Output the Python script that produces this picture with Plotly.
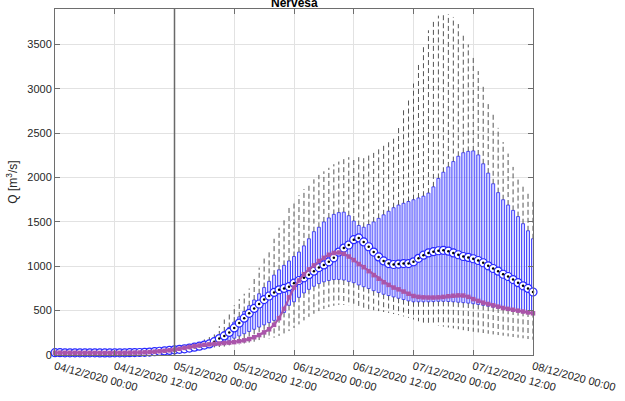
import pandas as pd
import plotly.graph_objects as go

# Hourly time axis, 04/12/2020 00:00 -> 08/12/2020 00:00
times = pd.date_range("2020-12-04 00:00", periods=97, freq="h")
forecast_start = 24  # index of 05/12/2020 00:00

# Observed discharge [m3/s]
observed = [26, 26, 25, 25, 25, 24, 24, 24, 24, 23, 23, 23, 24, 24, 25, 26, 27, 28, 30,
            33, 37, 42, 47, 53,
            60, 70, 80, 90, 100, 108, 115, 120, 125, 130, 135, 140, 145, 155, 165, 180,
            200, 225, 255, 290, 340, 415, 520, 650, 760, 840, 910, 965, 1010, 1060, 1095,
            1130, 1150, 1155, 1140, 1110, 1070, 1025, 990, 945, 900, 860, 820, 790, 760,
            740, 715, 690, 665, 655, 650, 648, 648, 650, 655, 662, 668, 672, 670, 655,
            630, 610, 590, 575, 560, 545, 530, 520, 510, 500, 490, 480, 470]

# Ensemble median
median = [26, 26, 25, 25, 25, 24, 24, 24, 24, 23, 23, 23, 24, 24, 25, 26, 27, 28, 30,
          33, 37, 42, 47, 52,
          58, 64, 70, 78, 88, 100, 112, 125, 150, 185, 215, 255, 305, 360, 415, 470,
          525, 575, 625, 665, 705, 735, 750, 770, 810, 840, 870, 905, 945, 985, 1015,
          1050, 1095, 1160, 1205, 1240, 1300, 1320, 1275, 1220, 1160, 1105, 1060, 1030,
          1020, 1025, 1030, 1030, 1050, 1090, 1125, 1150, 1165, 1175, 1180, 1170, 1150,
          1130, 1110, 1100, 1085, 1065, 1040, 1005, 975, 945, 910, 885, 850, 815, 780,
          750, 710]

# Ensemble spread from 05/12/2020 00:00 onwards
q3 = [60, 66, 74, 84, 98, 112, 130, 145, 175, 215, 260, 310, 370, 430, 490, 555,
      620, 690, 760, 830, 900, 960, 1010, 1060, 1110, 1160, 1230, 1310, 1390, 1440,
      1500, 1545, 1585, 1605, 1610, 1570, 1510, 1460, 1440, 1470, 1500, 1540, 1580,
      1620, 1660, 1690, 1710, 1730, 1750, 1770, 1790, 1825, 1895, 1990, 2060, 2120,
      2180, 2240, 2280, 2295, 2300, 2255, 2155, 2050, 1930, 1830, 1750, 1690, 1630,
      1560, 1480, 1400, 1310]
q1 = [55, 60, 65, 72, 80, 88, 95, 105, 115, 128, 145, 165, 190, 215, 240, 265,
      290, 315, 340, 365, 390, 420, 480, 560, 600, 650, 700, 740, 775, 805,
      825, 840, 850, 852, 845, 830, 815, 790, 770, 750, 725, 705, 685,
      670, 655, 640, 625, 610, 600, 600, 600, 600, 602, 605, 605, 603,
      600, 595, 590, 585, 578, 570, 560, 550, 540, 530, 522, 515, 508,
      500, 492, 485, 478]
upper = [60, 70, 85, 100, 120, 145, 175, 215, 265, 325, 400, 480, 560, 630, 690, 750,
         860, 985, 1090, 1190, 1310, 1435, 1550, 1660, 1740, 1800, 1870, 1915, 1980,
         2030, 2070, 2110, 2150, 2180, 2215, 2230, 2230, 2230, 2235, 2250, 2290, 2340,
         2380, 2410, 2450, 2590, 2760, 2900, 3060, 3280, 3480, 3660, 3760, 3825, 3845,
         3840, 3810, 3730, 3630, 3500, 3350, 3200, 3030, 2860, 2715, 2560, 2400, 2270,
         2120, 2010, 1915, 1840, 1750]
lower = [45, 50, 55, 60, 65, 70, 75, 80, 85, 90, 95, 100, 110, 120, 130, 140,
         150, 160, 170, 180, 195, 215, 240, 270, 305, 345, 390, 430, 465, 495,
         520, 540, 555, 565, 565, 558, 548, 535, 525, 515, 505, 495, 485,
         475, 462, 450, 435, 420, 400, 380, 365, 350, 340, 330, 320, 310,
         300, 290, 280, 270, 262, 255, 248, 240, 232, 225, 218, 210, 203,
         195, 188, 180, 172]

# Tick values
y_ticks = [0, 500, 1000, 1500, 2000, 2500, 3000, 3500]

ftimes = times[forecast_start:]

# Whisker segments (box edge -> whisker end)
wx, wy = [], []
for t, a, b, c, d in zip(ftimes, q3, upper, q1, lower):
    wx += [t, t, None, t, t, None]
    wy += [a, b, None, c, d, None]

fig = go.Figure()

fig.add_trace(go.Scatter(
    x=wx, y=wy, mode="lines",
    line=dict(color="rgb(85,85,85)", width=1, dash="5px,3px"),
    hoverinfo="skip"))

# Interquartile boxes
fig.add_trace(go.Bar(
    x=ftimes, base=q1, y=[a - b for a, b in zip(q3, q1)],
    width=0.6 * 3600 * 1000,
    marker=dict(color="rgba(175,175,255,0.55)",
                line=dict(color="rgb(75,75,255)", width=1))))

# Median markers: open circle with a dot
fig.add_trace(go.Scatter(
    x=times, y=median, mode="markers", cliponaxis=False,
    marker=dict(symbol="circle", size=8, color="white",
                line=dict(color="rgb(40,40,255)", width=1.2))))
fig.add_trace(go.Scatter(
    x=times, y=median, mode="markers", cliponaxis=False,
    marker=dict(symbol="circle", size=2.5, color="black")))

# Observed series
fig.add_trace(go.Scatter(
    x=times, y=observed, mode="lines+markers", cliponaxis=False,
    line=dict(color="rgb(170,85,170)", width=2.2),
    marker=dict(symbol="square", size=4.5, color="rgb(170,85,170)")))

axis_line = "rgb(110,110,110)"
grid = "rgb(226,226,226)"

fig.update_layout(
    width=625, height=401,
    margin=dict(l=55, r=89, t=8, b=45),
    plot_bgcolor="white", paper_bgcolor="white",
    showlegend=False, barmode="overlay",
    font=dict(family="Liberation Sans, Arial, sans-serif", size=11, color="rgb(38,38,38)"),
    xaxis=dict(
        type="date",
        range=[times[0], times[-1]],
        tick0=times[0], dtick=12 * 3600 * 1000,
        tickformat="%d/%m/%Y %H:%M",
        tickangle=15,
        ticks="inside", ticklen=5, tickcolor=axis_line,
        showline=True, linecolor=axis_line, linewidth=1, mirror="ticks",
        showgrid=True, gridcolor=grid, gridwidth=1,
        zeroline=False,
    ),
    yaxis=dict(
        range=[0, 3900],
        tickvals=y_ticks,
        ticks="inside", ticklen=5, tickcolor=axis_line,
        showline=True, linecolor=axis_line, linewidth=1, mirror="ticks",
        showgrid=True, gridcolor=grid, gridwidth=1,
        zeroline=False,
        title=dict(text="Q [m<sup>3</sup>/s]", standoff=7,
                   font=dict(size=12)),
    ),
    shapes=[dict(type="line", xref="x", yref="paper",
                 x0=times[forecast_start], x1=times[forecast_start], y0=0, y1=1,
                 line=dict(color="rgb(105,105,105)", width=1.5), layer="above")],
    annotations=[dict(text="<b>Nervesa</b>", xref="paper", yref="paper",
                      x=0.5, y=1, yanchor="middle", yshift=6, showarrow=False,
                      font=dict(size=12, color="black"))],
)

fig.write_html("out.html")
